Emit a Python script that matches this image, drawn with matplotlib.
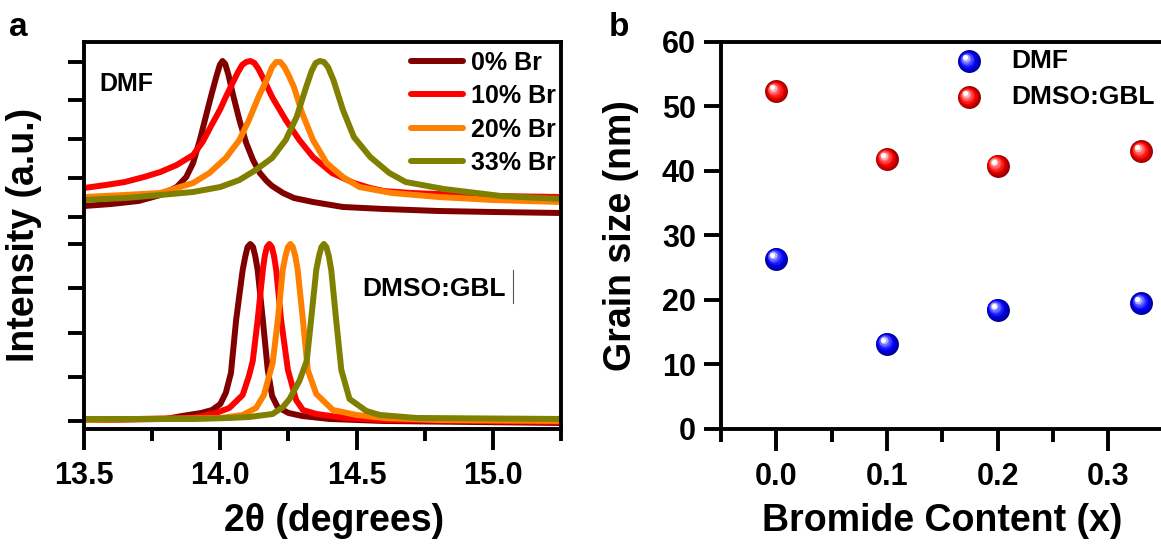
import numpy as np
import matplotlib
matplotlib.use("Agg")
import matplotlib.pyplot as plt
from matplotlib.ticker import MultipleLocator, FormatStrFormatter
from matplotlib.transforms import offset_copy
from matplotlib.colors import to_rgb

plt.rcParams['font.family'] = ['Liberation Sans', 'DejaVu Sans']
plt.rcParams['font.weight'] = 'bold'
plt.rcParams['axes.labelweight'] = 'bold'

# ---- panel a: XRD (110) peak (a.u.) ----
labels_a = ['0% Br', '10% Br', '20% Br', '33% Br']
colors_a = ['#800000', '#FF0000', '#FF8000', '#808000']

# DMF films (upper stack)
dmf0_x = [13.50, 13.60, 13.70, 13.78, 13.84, 13.875, 13.90, 13.925, 13.95, 13.97, 13.985, 13.998,
          14.008, 14.018, 14.03, 14.045, 14.07, 14.095, 14.12, 14.145, 14.17, 14.19, 14.23, 14.27,
          14.34, 14.45, 14.60, 14.80, 15.00, 15.25]
dmf0_y = [215, 217, 220, 226, 234, 244, 258, 281, 308, 329, 344, 356,
          360, 357, 346, 328, 301, 278, 261, 248, 240, 235, 228, 223,
          219, 214, 212, 210, 209, 208]
dmf10_x = [13.50, 13.58, 13.65, 13.72, 13.78, 13.84, 13.90, 13.935, 13.97, 14.00, 14.02, 14.045,
           14.065, 14.08, 14.095, 14.11, 14.125, 14.14, 14.155, 14.19, 14.24, 14.29, 14.34, 14.41,
           14.45, 14.49, 14.55, 14.60, 14.70, 14.80, 15.00, 15.25]
dmf10_y = [233, 236, 239, 244, 249, 256, 266, 279, 297, 312, 324, 338,
           349, 356, 359, 360, 358, 352, 344, 324, 301, 281, 264, 248,
           243, 238, 233, 230, 228, 227, 225, 224]
dmf20_x = [13.50, 13.65, 13.78, 13.84, 13.90, 13.96, 14.02, 14.07, 14.105, 14.14, 14.175, 14.19,
           14.205, 14.22, 14.235, 14.25, 14.27, 14.30, 14.34, 14.39, 14.45, 14.51, 14.63, 14.80,
           15.00, 15.25]
dmf20_y = [224, 226, 228, 233, 238, 248, 263, 281, 301, 324, 344, 354,
           359, 359, 354, 346, 334, 308, 281, 258, 244, 234, 228, 224,
           221, 219]
dmf33_x = [13.50, 13.65, 13.78, 13.90, 14.00, 14.07, 14.13, 14.19, 14.24, 14.28, 14.315, 14.335,
           14.35, 14.365, 14.38, 14.395, 14.415, 14.45, 14.49, 14.55, 14.62, 14.68, 14.82, 15.03,
           15.25]
dmf33_y = [221, 223, 226, 229, 234, 241, 251, 263, 281, 304, 334, 350,
           358, 360, 359, 354, 341, 311, 284, 264, 248, 239, 232, 225,
           222]

# DMSO:GBL films (lower stack)
gbl0_x = [13.50, 13.80, 13.86, 13.93, 13.97, 14.00, 14.02, 14.039, 14.058, 14.082, 14.092, 14.10,
          14.11, 14.12, 14.128, 14.137, 14.156, 14.174, 14.19, 14.21, 14.25, 14.30, 14.40, 14.60,
          15.25]
gbl0_y = [1, 2, 5, 8, 11, 17, 28, 48, 101, 151, 165, 174,
          177, 174, 165, 151, 101, 51, 25, 14, 8, 5, 2, 0,
          -2]
gbl10_x = [13.50, 13.90, 13.984, 14.033, 14.082, 14.105, 14.119, 14.137, 14.156, 14.163, 14.171,
           14.18, 14.189, 14.197, 14.205, 14.223, 14.248, 14.278, 14.303, 14.352, 14.46, 14.60,
           15.25]
gbl10_y = [1, 3, 8, 13, 26, 45, 60, 101, 151, 165, 174,
           177, 174, 165, 151, 101, 51, 21, 11, 7, 3, 1,
           -1]
gbl20_x = [13.50, 14.00, 14.082, 14.131, 14.16, 14.192, 14.211, 14.229, 14.239, 14.248, 14.257,
           14.266, 14.275, 14.284, 14.303, 14.321, 14.352, 14.413, 14.50, 14.60, 14.80, 15.25]
gbl20_y = [1, 3, 6, 13, 26, 58, 101, 151, 165, 174, 177,
           174, 165, 151, 101, 51, 27, 11, 6, 3, 1, 0]
gbl33_x = [13.50, 13.90, 14.033, 14.107, 14.192, 14.23, 14.254, 14.29, 14.317, 14.333, 14.352,
           14.362, 14.371, 14.38, 14.389, 14.398, 14.407, 14.425, 14.444, 14.474, 14.536, 14.585,
           14.72, 15.25]
gbl33_y = [2, 2, 3, 4, 7, 14, 22, 40, 60, 101, 151,
           165, 174, 177, 174, 165, 151, 101, 51, 22, 10, 6,
           3, 2]

dmf_curves = [(dmf0_x, dmf0_y), (dmf10_x, dmf10_y), (dmf20_x, dmf20_y), (dmf33_x, dmf33_y)]
gbl_curves = [(gbl0_x, gbl0_y), (gbl10_x, gbl10_y), (gbl20_x, gbl20_y), (gbl33_x, gbl33_y)]
# stacked-layer tick marks (lower layer then upper layer)
yticks_a = [0.3, 44.3, 88.3, 133.3, 176.7, 204.3, 243.3, 281.7, 320.7, 359.3]

# ---- panel b: grain size ----
bromide = [0.0, 0.1, 0.2, 0.33]
grain_dmf = [26.4, 13.2, 18.5, 19.5]
grain_gbl = [52.3, 41.8, 40.8, 43.0]
labels_b = ['DMF', 'DMSO:GBL']
colors_b = ['#0000FF', '#FF0000']
xticks_b = [0.0, 0.1, 0.2, 0.3]

fig = plt.figure(figsize=(11.61, 5.48), dpi=100)
ax = fig.add_axes([0.0724, 0.2172, 0.4108, 0.7067])
bx = fig.add_axes([0.6210, 0.2172, 0.4289, 0.7067])

lw_sp = 2.8
for a in (ax, bx):
    for s in a.spines.values():
        s.set_linewidth(lw_sp)
    a.tick_params(which='both', direction='out', width=lw_sp, labelsize=22)

# panel a
for (x, y), c in zip(dmf_curves, colors_a):
    ax.plot(x, y, color=c, lw=4.3, solid_joinstyle='round', solid_capstyle='round')
for (x, y), c, lab in zip(gbl_curves, colors_a, labels_a):
    ax.plot(x, y, color=c, lw=4.3, solid_joinstyle='round', solid_capstyle='round', label=lab)
ax.set_xlim(13.5, 15.25)
ax.set_ylim(-8, 379.3)
ax.xaxis.set_major_locator(MultipleLocator(0.5))
ax.xaxis.set_minor_locator(MultipleLocator(0.25))
ax.xaxis.set_major_formatter(FormatStrFormatter('%.1f'))
ax.set_yticks(yticks_a)
ax.set_yticklabels([])
ax.tick_params(axis='x', which='major', length=15, pad=8)
ax.tick_params(axis='x', which='minor', length=8.6)
ax.tick_params(axis='y', length=11.5)
ax.set_xlabel('2\u03b8 (degrees)', fontsize=27)
ax.set_ylabel('Intensity (a.u.)', fontsize=27)
ax.xaxis.set_label_coords(0.524, -0.19)
ax.yaxis.set_label_coords(-0.088, 0.5)
ax.legend(loc='upper left', bbox_to_anchor=(0.685, 0.977), frameon=False, fontsize=18,
          handlelength=2.1, handletextpad=0.3, labelspacing=0.38, borderpad=0, borderaxespad=0)
ax.text(0.032, 0.891, 'DMF', transform=ax.transAxes, fontsize=18, va='center', ha='left')
ax.text(0.583, 0.361, 'DMSO:GBL', transform=ax.transAxes, fontsize=19, va='center', ha='left')
ax.plot([0.899, 0.899], [0.325, 0.41], transform=ax.transAxes, color='#555555', lw=0.8)
fig.text(0.008, 0.95, 'a', fontsize=24, va='center', ha='left')


# panel b: shaded spheres
def sphere(axis, xs, ys, base, trans, size=16.5, n=8):
    base = np.array(to_rgb(base))
    dark = base * 0.6
    white = np.array([1.0, 1.0, 1.0])
    for k in range(n):
        t = k / (n - 1)
        if t < 0.35:
            col = dark + (base - dark) * (t / 0.35)
        elif t < 0.75:
            col = base + (white - base) * ((t - 0.35) / 0.4) * 0.45
        else:
            col = base + (white - base) * (0.45 + 0.55 * (t - 0.75) / 0.25)
        sz = size * (1 - 0.78 * t)
        tr = offset_copy(trans, fig=fig, x=-4.0 * t, y=4.0 * t, units='dots')
        axis.plot(xs, ys, 'o', ms=sz, color=col, mec='none', transform=tr, clip_on=False)


for ys, c in zip([grain_dmf, grain_gbl], colors_b):
    sphere(bx, bromide, ys, c, bx.transData)
bx.set_xlim(-0.05, 0.40)
bx.set_ylim(0, 60)
bx.set_xticks(xticks_b)
bx.xaxis.set_minor_locator(MultipleLocator(0.05))
bx.xaxis.set_major_formatter(FormatStrFormatter('%.1f'))
bx.yaxis.set_major_locator(MultipleLocator(10))
bx.tick_params(axis='x', which='major', length=15.6, pad=8)
bx.tick_params(axis='x', which='minor', length=9.3)
bx.tick_params(axis='y', length=12, pad=6)
bx.set_xlabel('Bromide Content (x)', fontsize=27)
bx.set_ylabel('Grain size (nm)', fontsize=27)
bx.xaxis.set_label_coords(0.444, -0.19)
bx.yaxis.set_label_coords(-0.165, 0.5)

# legend b (drawn by hand so the markers keep their shading)
for i, (lab, c) in enumerate(zip(labels_b, colors_b)):
    yy = 0.949 - 0.093 * i
    sphere(bx, [0.498], [yy], c, bx.transAxes)
    bx.text(0.582, yy, lab, transform=bx.transAxes, fontsize=19, va='center', ha='left')
fig.text(0.524, 0.95, 'b', fontsize=24, va='center', ha='left')

fig.savefig('out.png', dpi=100)
